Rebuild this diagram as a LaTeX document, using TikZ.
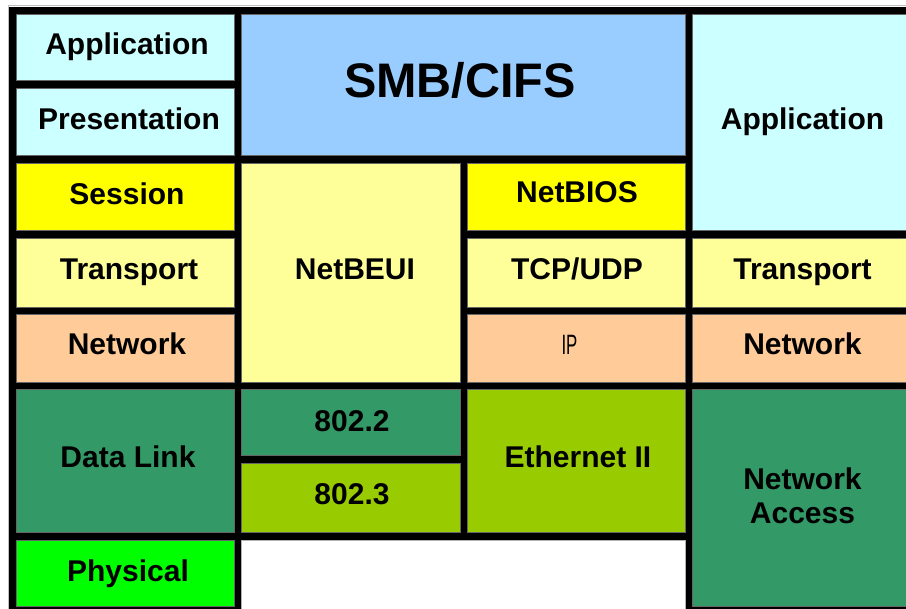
\documentclass[tikz,border=0pt]{standalone}
\usepackage{fontspec}
\setmainfont{Liberation Sans}
\usepackage{graphicx}
\definecolor{appc}{HTML}{CCFFFF}
\definecolor{smbc}{HTML}{99CCFF}
\definecolor{sesc}{HTML}{FFFF00}
\definecolor{trac}{HTML}{FFFF99}
\definecolor{netc}{HTML}{FFCC99}
\definecolor{dlc}{HTML}{339966}
\definecolor{ethc}{HTML}{99CC00}
\definecolor{phyc}{HTML}{00FF00}
\begin{document}
\begin{tikzpicture}[x=1pt,y=-1pt,
  cell/.style={draw=black!60, line width=0.6pt},
  lbl/.style={anchor=base, inner sep=0pt, font=\bfseries\fontsize{30}{35}\selectfont},
  big/.style={anchor=base, inner sep=0pt, font=\bfseries\fontsize{48.5}{56}\selectfont},
  two/.style={anchor=center, inner sep=0pt, align=center, font=\bfseries\fontsize{30}{35}\selectfont}]
\useasboundingbox (0,0) rectangle (906,609);
\fill[white] (0,0) rectangle (906,609);
\draw[black!25, line width=1pt] (8,609) -- (8,6) -- (906,6);
\fill[black] (9,7) rectangle (906,609);
% column 1 (OSI)
\filldraw[cell, fill=appc] (16,14) rectangle (234,80);
\filldraw[cell, fill=appc] (16,88) rectangle (234,155);
\filldraw[cell, fill=sesc] (16,163) rectangle (234,230);
\filldraw[cell, fill=trac] (16,238) rectangle (234,307);
\filldraw[cell, fill=netc] (16,314) rectangle (234,382);
\filldraw[cell, fill=dlc] (16,389) rectangle (234,532);
\filldraw[cell, fill=phyc] (16,540) rectangle (234,606);
% SMB/CIFS
\filldraw[cell, fill=smbc] (241,14) rectangle (685,155);
% column 2 (NetBEUI)
\filldraw[cell, fill=trac] (241,163) rectangle (460,382);
\filldraw[cell, fill=dlc] (241,389) rectangle (460,455);
\filldraw[cell, fill=ethc] (241,463) rectangle (460,532);
% column 3 (TCP/IP)
\filldraw[cell, fill=sesc] (467,163) rectangle (685,230);
\filldraw[cell, fill=trac] (467,238) rectangle (685,307);
\filldraw[cell, fill=netc] (467,314) rectangle (685,382);
\filldraw[cell, fill=ethc] (467,389) rectangle (685,532);
% bottom white
\filldraw[draw=black!30, line width=0.6pt, fill=white] (241,540) rectangle (685,612);
% column 4 (TCP/IP model)
\filldraw[cell, fill=appc] (692,14) rectangle (912,230);
\filldraw[cell, fill=trac] (692,238) rectangle (912,307);
\filldraw[cell, fill=netc] (692,314) rectangle (912,382);
\filldraw[cell, fill=dlc] (692,389) rectangle (912,606);
% labels
\node[lbl] (app1) at (127,55) {Application};
\node[lbl] (pre1) at (129,130) {Presentation};
\node[lbl] (ses1) at (127,205) {Session};
\node[lbl] (tra1) at (129,280) {Transport};
\node[lbl] (net1) at (127,355) {Network};
\node[lbl] (dl1) at (128,468) {Data Link};
\node[lbl] (phy1) at (128,582) {Physical};
\node[big] (smb) at (460,98) {SMB/CIFS};
\node[lbl] (nbeui) at (355,280) {NetBEUI};
\node[lbl] (e8022) at (352,432) {802.2};
\node[lbl] (e8023) at (352,505) {802.3};
\node[lbl] (nbios) at (577,203) {NetBIOS};
\node[lbl] (tcp) at (577,280) {TCP/UDP};
\node[anchor=base, inner sep=0pt, font=\fontsize{28}{32}\selectfont] (ip) at (569.5,355) {\scalebox{0.6}[1]{IP}};
\node[lbl] (eth) at (578,468) {Ethernet II};
\node[lbl] (app4) at (802.5,130) {Application};
\node[lbl] (tra4) at (802.5,280) {Transport};
\node[lbl] (net4) at (802.5,355) {Network};
\node[two] (na4) at (802.5,496) {Network\\[-1pt]Access};
\end{tikzpicture}
\end{document}
